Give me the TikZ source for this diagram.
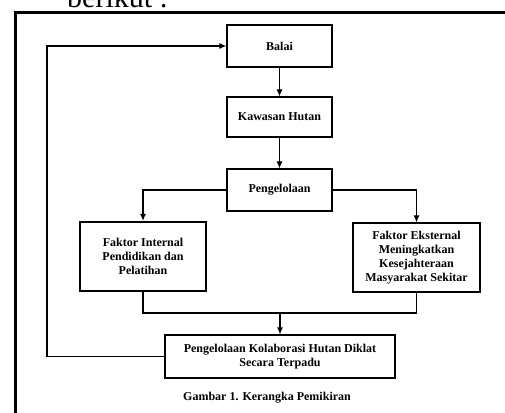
\documentclass[tikz,border=0pt]{standalone}
\usepackage{fontspec}
\setmainfont{Liberation Serif}
\usepackage{tikz}
\usetikzlibrary{calc,arrows.meta}

\begin{document}
\begin{tikzpicture}[x=1pt,y=-1pt]
                \tikzstyle{every node}+=[inner sep=0pt]
                \tikzstyle{kotak}=[draw=black, line width=1.3pt, align=center, font=\fontsize{12}{14}\selectfont\bfseries]
                \tikzstyle{panah}=[black, line width=1.1pt, -{Latex[length=7pt,width=6pt]}]
                \tikzstyle{garis}=[black, line width=1.1pt]
                \useasboundingbox (0,0) rectangle (505,412);
                \clip (0,0) rectangle (505,412);
                % teks di atas bingkai
                \node (berikut) [anchor=base west, font=\fontsize{30}{32}\selectfont] at (67,8) {berikut :};
                % bingkai
                \draw [black, line width=3pt] (15,420) -- (15,13) -- (515,13);
                % kotak
                \node (balai) [kotak, minimum width=105pt, minimum height=42pt] at (279.5,46) {Balai};
                \node (kawasan) [kotak, minimum width=105pt, minimum height=40pt] at (279.5,117) {Kawasan Hutan};
                \node (kelola) [kotak, minimum width=105pt, minimum height=42pt] at (279.5,190) {Pengelolaan};
                \node (internal) [kotak, line width=2.4pt, minimum width=126pt, minimum height=69pt] at (143,256.5) {Faktor Internal\\Pendidikan dan\\Pelatihan};
                \node (eksternal) [kotak, minimum width=127pt, minimum height=69pt] at (416.5,257.5) {Faktor Eksternal\\Meningkatkan\\Kesejahteraan\\Masyarakat Sekitar};
                \node (kolaborasi) [kotak, minimum width=230pt, minimum height=43pt] at (280,356.5) {Pengelolaan Kolaborasi Hutan Diklat\\Secara Terpadu};
                \node (judul) [font=\fontsize{12}{14}\selectfont\bfseries] at (267,398) {Gambar 1. Kerangka Pemikiran};
                % titik bantu
                \coordinate (gabung) at (280,313);
                \coordinate (balik) at (47,356.5);
                % panah
                \draw [panah] (balai) -- (kawasan);
                \draw [panah] (kawasan) -- (kelola);
                \draw [panah] (kelola.west) -| (internal.north);
                \draw [panah] (kelola.east) -| (eksternal.north);
                \draw [garis] (internal.south) |- (gabung) -| (eksternal.south);
                \draw [panah] (gabung) -- (kolaborasi.north);
                \draw [panah] (kolaborasi.west) -- (balik) |- (balai.west);
\end{tikzpicture}
\end{document}
